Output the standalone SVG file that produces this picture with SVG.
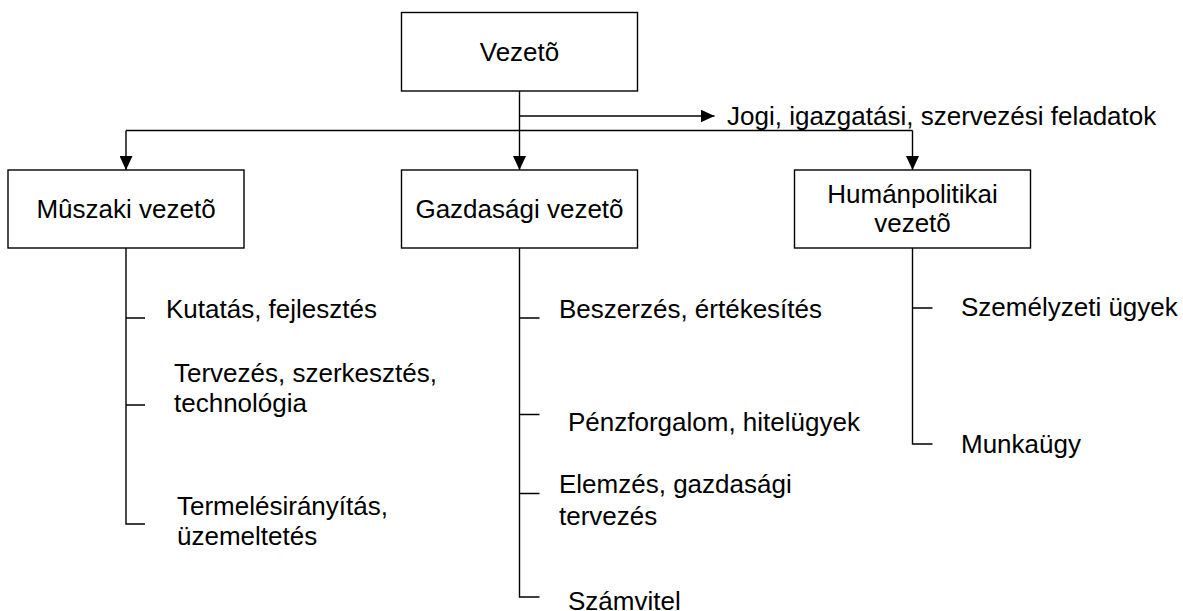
<svg xmlns="http://www.w3.org/2000/svg" width="1183" height="611" viewBox="0 0 1183 611">
  <style>
    .box { fill: #ffffff; stroke: #000000; stroke-width: 1.4; }
    .ln { fill: none; stroke: #000000; stroke-width: 1.4; }
    text { font-family: "Liberation Sans", Arial, sans-serif; font-size: 26px; fill: #000000; }
    .c { text-anchor: middle; }
  </style>
  <defs>
    <marker id="arrow" markerUnits="userSpaceOnUse" markerWidth="14" markerHeight="13" refX="14" refY="6.5" orient="auto">
      <path d="M0,0 L14,6.5 L0,13 Z" fill="#000000"/>
    </marker>
  </defs>
  <rect width="1183" height="611" fill="#ffffff"/>

  <!-- connectors -->
  <g id="connectors">
    <line class="ln" x1="519.5" y1="91" x2="519.5" y2="170" marker-end="url(#arrow)"/>
    <line class="ln" x1="519.5" y1="116" x2="714.5" y2="116" marker-end="url(#arrow)"/>
    <line class="ln" x1="126" y1="130.5" x2="912.5" y2="130.5"/>
    <line class="ln" x1="126" y1="130.5" x2="126" y2="170" marker-end="url(#arrow)"/>
    <line class="ln" x1="912.5" y1="130.5" x2="912.5" y2="170" marker-end="url(#arrow)"/>
    <!-- branch of Mûszaki vezetõ -->
    <path class="ln" d="M126,248 V524 H145 M126,318 H145 M126,405 H145"/>
    <!-- branch of Gazdasági vezetõ -->
    <path class="ln" d="M519.5,248 V597 H539.5 M519.5,318 H539.5 M519.5,414.5 H539.5 M519.5,493.5 H539.5"/>
    <!-- branch of Humánpolitikai vezetõ -->
    <path class="ln" d="M912.5,248 V444 H932.5 M912.5,308 H932.5"/>
  </g>

  <g id="node-vezeto">
    <rect class="box" x="401.5" y="12.5" width="236" height="78.5"/>
    <text class="c" x="519.5" y="61">Vezetõ</text>
  </g>

  <g id="node-jogi">
    <text x="727" y="125">Jogi, igazgatási, szervezési feladatok</text>
  </g>

  <g id="node-muszaki">
    <rect class="box" x="8" y="170" width="236" height="78"/>
    <text class="c" x="126" y="218">Mûszaki vezetõ</text>
  </g>

  <g id="node-gazdasagi">
    <rect class="box" x="401.5" y="170" width="236" height="78"/>
    <text class="c" x="519.5" y="218">Gazdasági vezetõ</text>
  </g>

  <g id="node-human">
    <rect class="box" x="794.5" y="170" width="236" height="78"/>
    <text class="c" x="912.5" y="203">Humánpolitikai</text>
    <text class="c" x="912.5" y="232">vezetõ</text>
  </g>

  <g id="items-muszaki">
    <text x="166" y="318">Kutatás, fejlesztés</text>
    <text x="174" y="382">Tervezés, szerkesztés,</text>
    <text x="174" y="412">technológia</text>
    <text x="177" y="515">Termelésirányítás,</text>
    <text x="177" y="545">üzemeltetés</text>
  </g>

  <g id="items-gazdasagi">
    <text x="559" y="318">Beszerzés, értékesítés</text>
    <text x="568" y="431">Pénzforgalom, hitelügyek</text>
    <text x="559" y="493">Elemzés, gazdasági</text>
    <text x="559" y="525">tervezés</text>
    <text x="568" y="610">Számvitel</text>
  </g>

  <g id="items-human">
    <text x="961" y="316">Személyzeti ügyek</text>
    <text x="961" y="453">Munkaügy</text>
  </g>
</svg>
